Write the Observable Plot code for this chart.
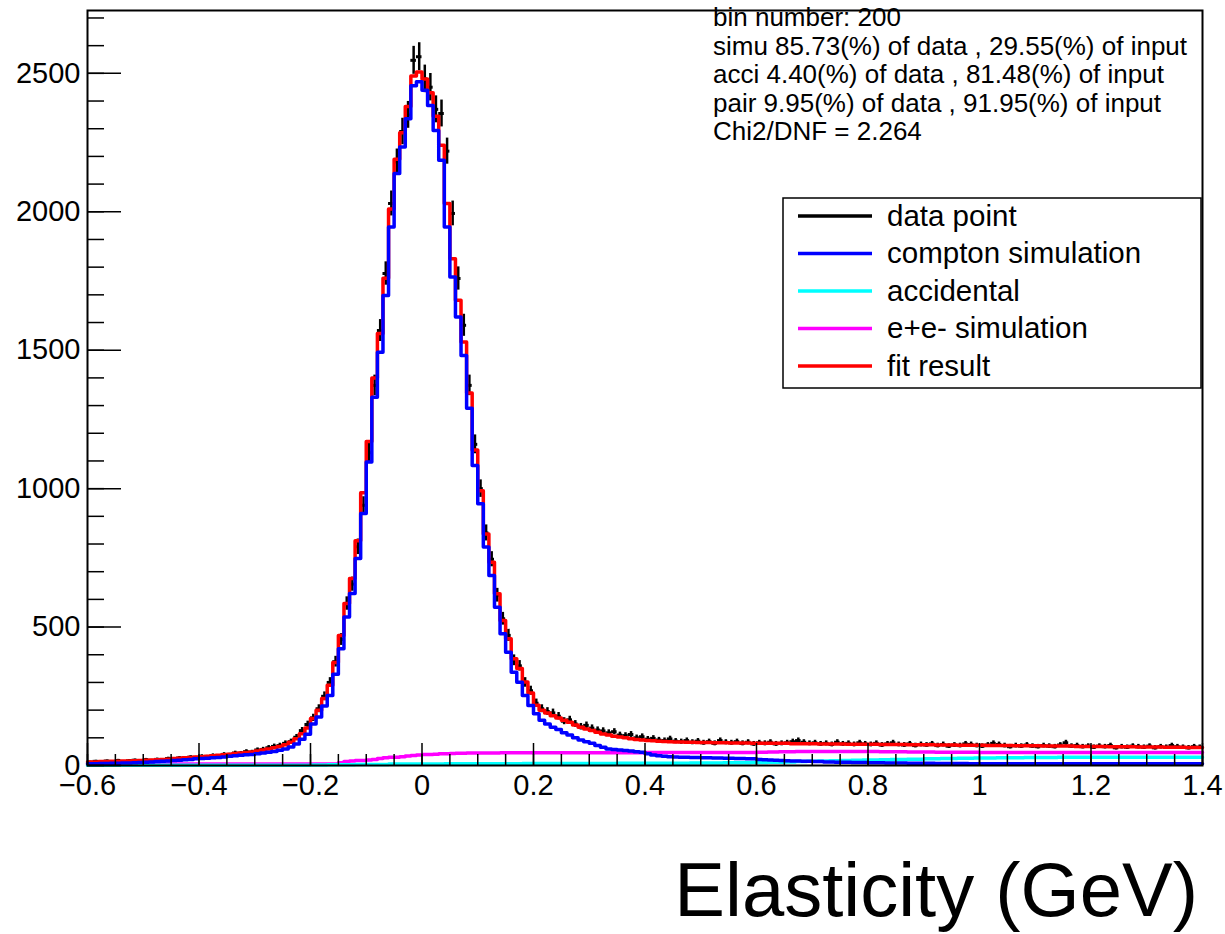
<!DOCTYPE html>
<html><head><meta charset="utf-8">
<script src="https://cdn.jsdelivr.net/npm/d3@7"></script>
<script src="https://cdn.jsdelivr.net/npm/@observablehq/plot@0.6"></script>
<style>body{margin:0;background:#fff;} svg{display:block;}</style>
</head><body><div id="chart"></div>
<script>
// Histogram binning (bin number: 200, range -0.6 .. 1.4)
const binLow = -0.6, binHigh = 1.4, binCount = 200;

const dataPoint = [
 12,15,11,16,14,18,13,17,19,15, 21,18,22,20,25,23,27,24,30,28,
 33,31,36,34,40,38,45,44,50,48, 56,58,64,69,72,80,86,102,126,148,
 172,205,250,300,375,455,585,655,790,940, 1130,1373,1571,1777,2030,2180,2290,2350,2547,2560,
 2480,2450,2370,2355,2219,1994,1759,1590,1373,1160, 1000,840,745,615,530,470,380,360,300,270,
 225,205,195,190,178,160,165,150,140,145, 135,128,125,118,122,110,108,112,100,104,
 95,98,92,90,96,88,86,90,84,88, 82,86,80,90,84,82,86,80,84,78,
 82,80,84,78,80,82,86,90,84,80, 82,78,80,76,84,78,80,76,82,78,
 76,80,74,78,82,76,74,78,72,76, 74,78,72,76,70,74,72,78,76,72,
 70,74,80,76,72,68,72,70,74,70, 68,72,70,68,74,82,70,72,68,70,
 66,70,68,72,64,68,66,70,68,66, 70,64,68,66,72,68,66,64,68,66];

const comptonSim = [
 6,6,7,7,8,8,9,9,10,11, 12,13,14,15,16,18,19,21,22,24,
 25,26,28,29,31,33,35,37,39,40, 42,45,48,51,55,60,67,78,95,113,
 150,175,215,253,330,422,536,621,748,910, 1096,1330,1493,1698,1945,2138,2234,2336,2455,2470,
 2439,2384,2294,2186,1945,1764,1620,1481,1290,1084, 945,789,686,572,476,409,337,301,253,217,
 187,163,150,138,130,118,110,100,92,86, 80,72,66,60,58,56,54,52,50,48,
 42,38,35,33,32,31,30,30,29,29, 28,28,27,27,26,26,25,25,24,24,
 22,21,20,19,18,17,16,16,15,15, 14,14,13,13,12,12,12,11,11,11,
 10,10,10,9,9,9,9,8,8,8, 8,8,7,7,7,7,7,7,6,6,
 6,6,6,6,6,6,6,6,6,6, 6,6,6,6,6,6,6,6,6,6,
 6,6,6,6,6,6,6,6,6,6, 6,6,6,6,6,6,6,6,6,6];

const accidental = [
 1,1,1,1,1,1,1,1,1,1, 1,1,1,1,1,1,1,1,1,1,
 1,1,1,1,1,1,1,1,1,1, 1,1,1,1,1,1,1,1,1,1,
 2,2,2,3,3,3,3,3,4,4, 4,4,4,4,5,5,5,5,5,5,
 5,5,5,5,6,6,6,6,6,6, 6,6,6,6,6,6,6,6,7,7,
 7,7,7,7,7,7,7,7,7,7, 7,7,7,7,7,8,8,8,8,8,
 8,8,8,8,8,8,8,8,9,9, 9,9,9,9,10,10,10,10,10,11,
 11,11,12,12,12,13,13,14,14,15, 15,16,16,17,17,18,18,19,19,20,
 20,20,21,21,22,22,22,23,23,23, 24,24,24,25,25,25,26,26,26,27,
 27,27,27,28,28,28,28,28,29,29, 29,29,29,29,30,30,30,30,30,30,
 30,30,30,30,30,30,30,30,30,30, 30,30,30,30,30,30,30,30,30,30];

const pairSim = [
 5,5,5,5,5,5,5,5,5,5, 5,5,5,5,5,5,5,5,5,5,
 5,5,5,5,5,5,5,5,5,5, 5,5,5,5,5,5,5,5,5,5,
 5,5,5,5,5,10,14,16,18,18, 20,22,25,28,30,30,32,34,36,38,
 40,40,41,42,42,43,44,44,45,45, 45,45,45,45,46,46,46,46,46,46,
 46,46,46,46,46,46,46,46,46,46, 46,46,46,46,46,46,46,46,46,46,
 47,47,47,47,47,47,47,47,47,47, 47,47,47,47,47,47,47,47,47,47,
 48,48,49,49,50,50,50,51,51,51, 51,51,51,51,51,51,51,51,51,51,
 51,51,50,50,50,50,50,49,49,49, 49,49,48,48,48,48,48,48,48,48,
 47,47,47,47,47,47,47,47,47,47, 47,47,47,47,47,47,47,47,47,47,
 47,47,47,47,47,47,47,47,47,47, 47,47,47,47,47,47,47,47,47,47];

const fitResult = [
 13,13,14,14,15,15,16,16,17,18, 19,20,21,22,23,25,26,28,29,31,
 32,33,35,37,39,41,43,45,47,49, 52,56,60,64,69,75,84,97,115,135,
 170,200,242,290,372,470,585,675,812,985, 1170,1400,1560,1760,2010,2190,2285,2380,2490,2505,
 2480,2430,2345,2240,2030,1830,1680,1530,1345,1140, 992,836,734,620,524,458,386,350,302,262,
 218,200,190,180,172,163,156,146,138,132, 126,120,114,110,106,103,100,97,94,92,
 90,89,88,87,86,85,85,84,84,83, 83,83,82,82,82,81,81,81,81,80,
 80,80,80,80,80,80,79,79,79,79, 79,78,78,78,78,78,77,77,77,77,
 77,77,76,76,76,76,76,75,75,75, 75,75,74,74,74,74,73,73,73,73,
 73,72,72,72,72,72,71,71,71,71, 71,70,70,70,70,70,70,69,69,69,
 69,69,69,68,68,68,68,68,67,67, 67,67,67,66,66,66,66,65,65,65];

const xTickLabels = [-0.6,-0.4,-0.2,0,0.2,0.4,0.6,0.8,1,1.2,1.4];
const xMinorTicks = d3.range(-0.6, 1.4001, 0.05);
const yTickLabels = [0,500,1000,1500,2000,2500];
const yMinorTicks = d3.range(0, 2701, 100);
const yMax = 2727;

const statsLines = [
 "bin number: 200",
 "simu 85.73(%) of data , 29.55(%) of input",
 "acci 4.40(%) of data , 81.48(%) of input",
 "pair 9.95(%) of data , 91.95(%) of input",
 "Chi2/DNF = 2.264"
];
const legendLabels = ["data point","compton simulation","accidental","e+e- simulation","fit result"];
const legendColors = ["#000000","#0000ff","#00ffff","#ff00ff","#ff0000"];
const xTitle = "Elasticity (GeV)";

// ---- build tables
const edges = d3.range(binCount + 1).map(i => binLow + (binHigh - binLow) * i / binCount);
function stepRows(values) {
  const rows = values.map((v, i) => ({x: edges[i], y: v}));
  rows.push({x: edges[binCount], y: values[binCount - 1]});
  return rows;
}
const pointRows = dataPoint.map((v, i) => ({x0: edges[i], x1: edges[i+1], xc: (edges[i]+edges[i+1])/2, v, lo: v - Math.sqrt(v), hi: v + Math.sqrt(v)}));

const W = 1225, H = 934, mL = 87, mR = 23, mT = 10, mB = 169;
const frameW = W - mL - mR, frameH = H - mT - mB;
const font = "'Liberation Sans', Arial, Helvetica, sans-serif";
const fmtX = d => String(+d.toFixed(1)).replace("-", "\u2212");
const lw = 3.5;

const chart = Plot.plot({
  width: W, height: H,
  marginLeft: mL, marginRight: mR, marginTop: mT, marginBottom: mB,
  style: {fontFamily: font, fontSize: "29px", color: "#000", background: "#fff"},
  x: {domain: [binLow, binHigh]},
  y: {domain: [0, yMax]},
  marks: [
    Plot.ruleY(pointRows, {y: "v", x1: "x0", x2: "x1", stroke: "#000", strokeWidth: 3}),
    Plot.ruleX(pointRows, {x: "xc", y1: "lo", y2: "hi", stroke: "#000", strokeWidth: 2.5}),
    Plot.line(stepRows(pairSim), {x: "x", y: "y", curve: "step-after", stroke: "#ff00ff", strokeWidth: lw}),
    Plot.line(stepRows(accidental), {x: "x", y: "y", curve: "step-after", stroke: "#00ffff", strokeWidth: lw}),
    Plot.line(stepRows(fitResult), {x: "x", y: "y", curve: "step-after", stroke: "#ff0000", strokeWidth: lw}),
    Plot.line(stepRows(comptonSim), {x: "x", y: "y", curve: "step-after", stroke: "#0000ff", strokeWidth: lw}),
    Plot.ruleX(xMinorTicks, {x: d => d, insetTop: frameH - 11, stroke: "#000", strokeWidth: 1.5}),
    Plot.ruleX(xTickLabels, {x: d => d, insetTop: frameH - 22, stroke: "#000", strokeWidth: 1.5}),
    Plot.ruleY(yMinorTicks, {y: d => d, insetRight: frameW - 17, stroke: "#000", strokeWidth: 1.5}),
    Plot.ruleY(yTickLabels, {y: d => d, insetRight: frameW - 34, stroke: "#000", strokeWidth: 1.5}),
    Plot.axisX({ticks: xTickLabels, tickSize: 0, tickPadding: 9, label: null, tickFormat: fmtX}),
    Plot.axisY({ticks: yTickLabels, tickSize: 0, tickPadding: 7, label: null, tickFormat: d3.format("d")}),
    Plot.frame({stroke: "#000", strokeWidth: 2})
  ]
});

const svg = d3.select(chart);
// stats text
const st = svg.append("g").attr("font-family", font).attr("font-size", 26).attr("fill", "#000").attr("text-anchor", "start");
statsLines.forEach((s, i) => st.append("text").attr("x", 713).attr("y", 26 + i * 28.5).attr("text-anchor", "start").text(s));
// legend
const lg = svg.append("g").attr("font-family", font).attr("font-size", 29.5).attr("text-anchor", "start");
lg.append("rect").attr("x", 783).attr("y", 198).attr("width", 418).attr("height", 190)
  .attr("fill", "#fff").attr("stroke", "#000").attr("stroke-width", 1.5);
legendLabels.forEach((s, i) => {
  const y = 216 + i * 37.5;
  lg.append("line").attr("x1", 798).attr("x2", 872).attr("y1", y).attr("y2", y)
    .attr("stroke", legendColors[i]).attr("stroke-width", 3.5);
  lg.append("text").attr("x", 887).attr("y", y + 9.5).attr("fill", "#000").attr("text-anchor", "start").text(s);
});
// x title
svg.append("text").attr("x", 1198).attr("y", 916).attr("text-anchor", "end")
  .attr("font-family", font).attr("font-size", 76).attr("fill", "#000").text(xTitle);

document.getElementById("chart").appendChild(chart);
</script>
</body></html>
